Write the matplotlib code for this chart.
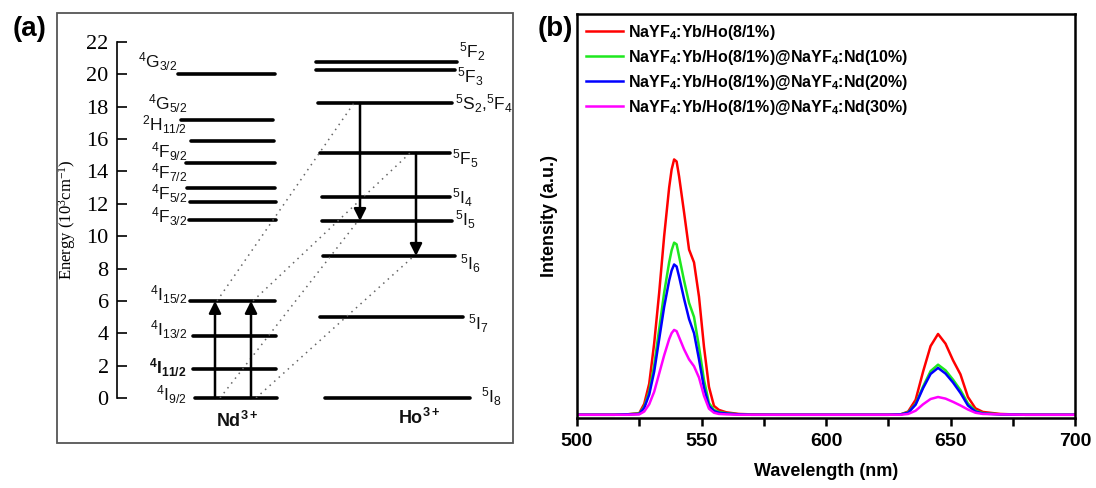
import matplotlib
matplotlib.use("Agg")
import matplotlib.pyplot as plt
from matplotlib.patches import Rectangle

plt.rcParams['font.family'] = ['Liberation Sans', 'DejaVu Sans']
plt.rcParams['mathtext.default'] = 'regular'

# ---- energy levels (10^3 cm^-1) ----
nd_names = ['$^4$G$_{3/2}$', '$^4$G$_{5/2}$', '$^2$H$_{11/2}$', '$^4$F$_{9/2}$',
            '$^4$F$_{7/2}$', '$^4$F$_{5/2}$', '$^4$F$_{3/2}$',
            '$^4$I$_{15/2}$', '$^4$I$_{13/2}$', '$^4$I$_{11/2}$', '$^4$I$_{9/2}$']
nd_levels = [20.0, 17.2, 15.9, 14.5, 13.0, 12.1, 11.0, 6.0, 3.85, 1.8, 0.0]
nd_label_y = [20.8, 18.2, 16.9, 15.2, 13.9, 12.6, 11.2, 6.4, 4.2, 1.9, 0.2]

ho_names = ['$^5$F$_2$', '$^5$F$_3$', '$^5$S$_2$,$^5$F$_4$', '$^5$F$_5$', '$^5$I$_4$',
            '$^5$I$_5$', '$^5$I$_6$', '$^5$I$_7$', '$^5$I$_8$']
ho_levels = [20.77, 20.27, 18.23, 15.14, 12.42, 10.94, 8.78, 5.03, 0.0]
ho_label_y = [21.4, 19.85, 18.2, 14.8, 12.4, 11.0, 8.3, 4.6, 0.1]

# ---- emission spectra ----
wavelength = [500, 505, 510, 515, 520, 525, 527, 529, 531, 533, 535, 537, 538, 539, 540,
              541, 543, 545, 547, 549, 551, 553, 555, 557, 560, 565, 570, 580, 590, 600,
              610, 620, 625, 630, 633, 636, 639, 642, 645, 648, 651, 654, 657, 660, 663,
              670, 680, 690, 700]
int_0 = [0.8, 0.8, 0.8, 0.8, 0.9, 1.2, 3.5, 8.5, 18.5, 31.0, 45.0, 57.0, 61.5, 64.0, 63.5,
         59.8, 50.9, 41.7, 38.5, 30.0, 17.6, 7.7, 3.0, 2.0, 1.4, 1.0, 0.9, 0.8, 0.8, 0.8,
         0.8, 0.8, 0.8, 0.9, 1.6, 4.5, 11.5, 17.8, 20.8, 18.4, 14.3, 10.8, 5.2, 2.4, 1.5,
         1.0, 0.8, 0.8, 0.8]
int_10 = [0.8, 0.8, 0.8, 0.8, 0.9, 1.1, 2.8, 6.5, 13.0, 22.0, 31.0, 38.5, 41.5, 43.4, 43.0,
          40.0, 34.0, 28.5, 25.0, 17.6, 9.4, 3.7, 2.0, 1.5, 1.2, 0.9, 0.8, 0.8, 0.8, 0.8,
          0.8, 0.8, 0.8, 0.9, 1.4, 3.5, 7.8, 11.6, 13.2, 11.8, 9.5, 6.9, 3.6, 1.8, 1.2,
          0.9, 0.8, 0.8, 0.8]
int_20 = [0.8, 0.8, 0.8, 0.8, 0.9, 1.0, 2.5, 5.8, 11.5, 19.5, 27.5, 34.0, 36.5, 38.0, 37.5,
          35.0, 29.5, 24.5, 21.0, 14.5, 7.5, 3.0, 1.7, 1.3, 1.1, 0.9, 0.8, 0.8, 0.8, 0.8,
          0.8, 0.8, 0.8, 0.9, 1.3, 3.3, 7.4, 10.9, 12.4, 11.0, 8.8, 6.2, 3.1, 1.6, 1.1,
          0.9, 0.8, 0.8, 0.8]
int_30 = [0.8, 0.8, 0.8, 0.8, 0.8, 0.9, 1.6, 3.4, 6.5, 11.0, 15.5, 19.5, 21.0, 21.8, 21.5,
          20.0, 17.0, 14.5, 12.8, 10.0, 5.5, 2.3, 1.3, 1.0, 0.9, 0.8, 0.8, 0.8, 0.8, 0.8,
          0.8, 0.8, 0.8, 0.8, 1.0, 1.8, 3.4, 4.7, 5.2, 4.8, 4.0, 3.1, 2.1, 1.3, 1.0,
          0.9, 0.8, 0.8, 0.8]
series_labels = ['NaYF$_4$:Yb/Ho(8/1%)',
                 'NaYF$_4$:Yb/Ho(8/1%)@NaYF$_4$:Nd(10%)',
                 'NaYF$_4$:Yb/Ho(8/1%)@NaYF$_4$:Nd(20%)',
                 'NaYF$_4$:Yb/Ho(8/1%)@NaYF$_4$:Nd(30%)']
series_colors = ['#ff0000', '#1ee81e', '#0000ff', '#ff00ff']

W, H = 1096, 488
fig = plt.figure(figsize=(W / 100, H / 100), dpi=100)

def fbox(x0, y0, x1, y1):
    # pixel box (top-left origin) -> figure fraction rect
    return [x0 / W, 1 - y1 / H, (x1 - x0) / W, (y1 - y0) / H]

# ================= (a) energy level diagram =================
fig.patches.append(Rectangle((57 / W, 1 - 443 / H), (513 - 57) / W, (443 - 13) / H,
                             transform=fig.transFigure, fill=False, ec='#555555', lw=1.3))
ax1 = fig.add_axes(fbox(117, 42, 513, 398))
ax1.set_xlim(117, 513)
ax1.set_ylim(0, 22)
for s in ['top', 'right', 'bottom']:
    ax1.spines[s].set_visible(False)
ax1.spines['left'].set_linewidth(1.2)
ax1.set_xticks([])
ax1.set_yticks(range(0, 23, 2))
ax1.tick_params(axis='y', direction='in', length=7, width=1.2, pad=6, labelsize=16)
for t in ax1.get_yticklabels():
    t.set_family(['Liberation Serif', 'DejaVu Serif'])
ax1.set_ylabel('Energy (10$^3$cm$^{-1}$)', family=['Liberation Serif', 'DejaVu Serif'],
               fontsize=12, labelpad=6)

nd_x0 = [178, 181, 191, 186, 187, 190, 189, 190, 193, 193, 195]
nd_x1 = [275, 273, 274, 275, 275, 276, 276, 275, 276, 276, 277]
lc = '#111111'
for e, a, b in zip(nd_levels, nd_x0, nd_x1):
    ax1.plot([a, b], [e, e], color='k', lw=2.6, solid_capstyle='round', clip_on=False)
for i, (name, y) in enumerate(zip(nd_names, nd_label_y)):
    xr = 177 if i == 0 else 187
    ax1.text(xr, y, name, ha='right', va='center', fontsize=12.5, color=lc,
             fontweight='bold' if i == 9 else 'normal')

ho_x0 = [316, 316, 318, 320, 322, 322, 323, 320, 325]
ho_x1 = [457, 455, 452, 450, 450, 452, 455, 463, 470]
ho_lx = [459, 457, 455, 452, 452, 455, 460, 468, 481]
for e, a, b in zip(ho_levels, ho_x0, ho_x1):
    ax1.plot([a, b], [e, e], color='k', lw=2.6, solid_capstyle='round', clip_on=False)
for name, y, x in zip(ho_names, ho_label_y, ho_lx):
    ax1.text(x, y, name, ha='left', va='center', fontsize=12.5, color=lc)

# excitation (Nd) and emission (Ho) arrows, with dotted transfer lines
nd_arrow_x = [215, 251]
ho_arrow_x = [360, 416]
ho_upper = [ho_levels[2], ho_levels[3]]
ho_lower = [ho_levels[5], ho_levels[6]]
arr = dict(arrowstyle='-|>', lw=1.8, color='k', mutation_scale=18, shrinkA=0, shrinkB=0)
for xn, xh, eu, el in zip(nd_arrow_x, ho_arrow_x, ho_upper, ho_lower):
    ax1.annotate('', xy=(xn, nd_levels[7]), xytext=(xn, nd_levels[10]), arrowprops=arr,
                 annotation_clip=False)
    ax1.annotate('', xy=(xh, el), xytext=(xh, eu), arrowprops=arr)
    ax1.plot([xn + 2, xh - 6], [nd_levels[7], eu], ls=(0, (1, 3)), lw=1.1, color='#666666')
    ax1.plot([xn + 5, xh - 2], [nd_levels[10], el], ls=(0, (1, 3)), lw=1.1, color='#666666')

ax1.text(237, -1.4, 'Nd$^{3+}$', ha='center', va='center', fontsize=13, fontweight='bold',
         color=lc)
ax1.text(419, -1.25, 'Ho$^{3+}$', ha='center', va='center', fontsize=13, fontweight='bold',
         color=lc)
fig.text(30 / W, 1 - 29 / H, '(a)', ha='center', va='center', fontsize=20, fontweight='bold')

# ================= (b) emission spectra =================
ax2 = fig.add_axes(fbox(577, 14, 1075, 418))
for y, lab, c in zip([int_0, int_10, int_20, int_30], series_labels, series_colors):
    ax2.plot(wavelength, y, color=c, lw=1.8, label=lab)
ax2.set_xlim(500, 700)
ax2.set_ylim(0, 100)
ax2.set_yticks([])
ax2.set_xticks(range(500, 701, 50))
ax2.set_xticks(range(525, 700, 50), minor=True)
ax2.tick_params(axis='x', which='both', direction='out', length=6, width=1.8, labelsize=14,
                pad=5)
for t in ax2.get_xticklabels():
    t.set_fontweight('bold')
for s in ax2.spines.values():
    s.set_linewidth(1.8)
ax2.set_xlabel('Wavelength (nm)', fontsize=13, fontweight='bold', labelpad=9)
ax2.set_ylabel('Intensity (a.u.)', fontsize=13, fontweight='bold', labelpad=14)
ax2.legend(loc='upper left', frameon=False, prop={'weight': 'bold', 'size': 11.5},
           handlelength=2.3, handletextpad=0.35, labelspacing=0.38, borderaxespad=0.35,
           borderpad=0.2)
fig.text(555 / W, 1 - 29 / H, '(b)', ha='center', va='center', fontsize=20, fontweight='bold')

fig.savefig('out.png', dpi=100)
